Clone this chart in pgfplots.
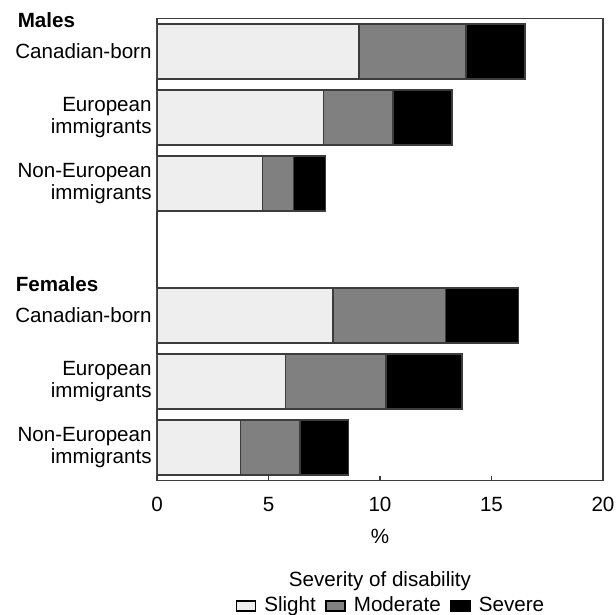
\documentclass[border=0pt]{standalone}
\usepackage{pgfplots}
\pgfplotsset{compat=1.18}
\usepackage{fontspec}
\setmainfont{Liberation Sans}
\definecolor{slight}{HTML}{EEEEEE}
\definecolor{moderate}{HTML}{808080}
\definecolor{severe}{HTML}{000000}
\definecolor{edge}{HTML}{3C3C3C}
\begin{document}
\begin{tikzpicture}[font=\fontsize{10.3pt}{11pt}\selectfont]
\useasboundingbox (-78.5pt,-67.25pt) rectangle (229.5pt,240.25pt);
\begin{axis}[
  at={(0pt,0pt)}, anchor=south west,
  scale only axis, width=223pt, height=231pt,
  xbar stacked, bar width=27.5pt,
  xmin=0, xmax=20,
  ymin=-0.5, ymax=6.5, y dir=reverse,
  xtick={0,5,10,15,20},
  xtick pos=bottom, tick align=inside,
  major tick length=2.5pt,
  x tick style={edge, line width=0.7pt},
  ytick={0,1,2,4,5,6},
  yticklabels={Canadian-born, European\\immigrants, Non-European\\immigrants, Canadian-born, European\\immigrants, Non-European\\immigrants},
  yticklabel style={align=right, font=\fontsize{10.3pt}{11pt}\selectfont, inner sep=1pt, xshift=-1.5pt},
  y tick style={draw=none},
  xticklabel style={font=\fontsize{10.3pt}{11pt}\selectfont, yshift=-5pt},
  /pgf/number format/assume math mode=true,
  axis line style={edge, line width=0.8pt},
  xlabel={\%},
  xlabel style={at={(axis description cs:0.5,-0.121)}, anchor=center},
  legend columns=3,
  legend style={draw=none, fill=none, at={(axis description cs:0.527,-0.2716)}, anchor=center,
    font=\fontsize{10.3pt}{11pt}\selectfont,
    /tikz/every even column/.append style={column sep=2.8pt},
    /tikz/every odd column/.append style={column sep=2pt},
    inner sep=0pt},
  legend image code/.code={\draw[#1, draw=black, line width=0.7pt] (0pt,-2.5pt) rectangle (9.5pt,2.5pt);},
  every axis plot/.append style={draw=edge, line width=0.7pt},
]
\addplot[fill=slight] coordinates {(9.06,0) (7.47,1) (4.74,2) (7.89,4) (5.77,5) (3.75,6)};
\addplot[fill=moderate] coordinates {(4.80,0) (3.11,1) (1.38,2) (5.05,4) (4.50,5) (2.66,6)};
\addplot[fill=severe] coordinates {(2.64,0) (2.64,1) (1.44,2) (3.27,4) (3.41,5) (2.17,6)};
\legend{Slight, Moderate, Severe}
\end{axis}
\node[anchor=base west, inner sep=0pt, font=\fontsize{10.3pt}{11pt}\selectfont\bfseries] at (-69.8pt,226.5pt) {Males};
\node[anchor=base west, inner sep=0pt, font=\fontsize{10.3pt}{11pt}\selectfont\bfseries] at (-70.8pt,94.4pt) {Females};
\node[anchor=center] at (111.5pt,-50.5pt) {Severity of disability};
\end{tikzpicture}
\end{document}
